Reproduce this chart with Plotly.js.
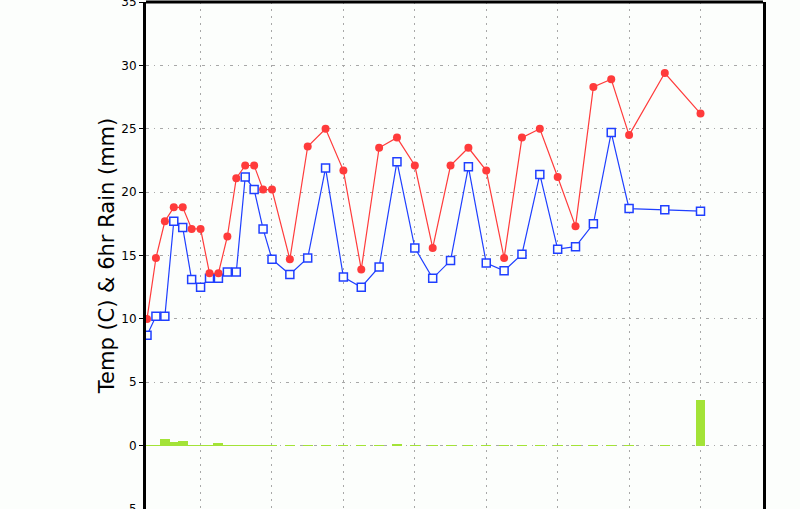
<!DOCTYPE html>
<html>
<head>
<meta charset="utf-8">
<script src="https://cdn.plot.ly/plotly-3.0.1.min.js"></script>
<style>html,body{margin:0;padding:0;background:#fcfefc;}#chart{width:800px;height:509px;}</style>
</head>
<body>
<div id="chart"></div>
<script>
// forecast hour of each point (3-hourly, then 6-hourly, then 12-hourly)
var hours = [0,3,6,9,12,15,18,21,24,27,30,33,36,39,42,
             48,54,60,66,72,78,84,90,96,102,108,114,120,126,132,138,144,150,156,162,
             174,186];
var temp = [10.0,14.8,17.7,18.8,18.8,17.1,17.1,13.6,13.6,16.5,21.1,22.1,22.1,20.2,20.2,
            14.7,23.6,25.0,21.7,13.9,23.5,24.3,22.1,15.6,22.1,23.5,21.7,14.8,24.3,25.0,21.2,17.3,28.3,28.9,24.5,
            29.4,26.2];
var dewp = [8.7,10.2,10.2,17.7,17.2,13.1,12.5,13.2,13.2,13.7,13.7,21.2,20.2,17.1,14.7,
            13.5,14.8,21.9,13.3,12.5,14.1,22.4,15.6,13.2,14.6,22.0,14.4,13.8,15.1,21.4,15.5,15.7,17.5,24.7,18.7,
            18.6,18.5];
var rain = [0.08,0.08,0.55,0.3,0.37,0.08,0.08,0.08,0.2,0.08,0.08,0.08,0.08,0.08,0.08,
            0.08,0.08,0.08,0.08,0.08,0.08,0.15,0.08,0.08,0.08,0.08,0.08,0.08,0.08,0.08,0.08,0.08,0.08,0.08,0.08,
            0.08,3.6];
var yTicks = [-5,0,5,10,15,20,25,30,35];

var traces = [
  {type:'bar', x:hours, y:rain, width:3.35, marker:{color:'#a3e337', line:{width:0}}, hoverinfo:'y'},
  {type:'scatter', mode:'lines+markers', x:hours, y:dewp,
   line:{color:'#1f3fff', width:1.2},
   marker:{symbol:'square', size:8, color:'#fcfefc', line:{width:1.5, color:'#1f3fff'}}},
  {type:'scatter', mode:'lines+markers', x:hours, y:temp,
   line:{color:'#ff3b3b', width:1.2},
   marker:{symbol:'circle', size:8, color:'#ff3b3b'}}
];

var layout = {
  width:800, height:509,
  margin:{l:146, r:37, t:2, b:0},
  paper_bgcolor:'#fcfefc', plot_bgcolor:'#fcfefc',
  showlegend:false,
  bargap:0,
  font:{family:'DejaVu Sans', color:'#000'},
  xaxis:{range:[-0.34,207], showline:false,
         showticklabels:false, ticks:'', tick0:18, dtick:24,
         showgrid:true, gridcolor:'#a8a8a8', gridwidth:1, griddash:'2px,5px', zeroline:false},
  yaxis:{range:[-5,35], tickvals:yTicks, ticktext:yTicks.map(String),
         showline:true, mirror:true, linecolor:'#000', linewidth:3,
         ticks:'outside', ticklen:4, tickcolor:'#000', tickfont:{size:12, family:'DejaVu Sans'},
         ticklabeloverflow:'allow',
         showgrid:true, gridcolor:'#a8a8a8', gridwidth:1, griddash:'3px,5px,1px,5px', zeroline:false,
         title:{text:'Temp (C) & 6hr Rain (mm)', font:{size:21, family:'DejaVu Sans'}, standoff:1}},
  shapes:[{type:'line', xref:'paper', yref:'paper', x0:0, x1:1, y0:1, y1:1,
           line:{color:'#000', width:3}}]
};
Plotly.newPlot('chart', traces, layout, {staticPlot:true});
</script>
</body>
</html>
